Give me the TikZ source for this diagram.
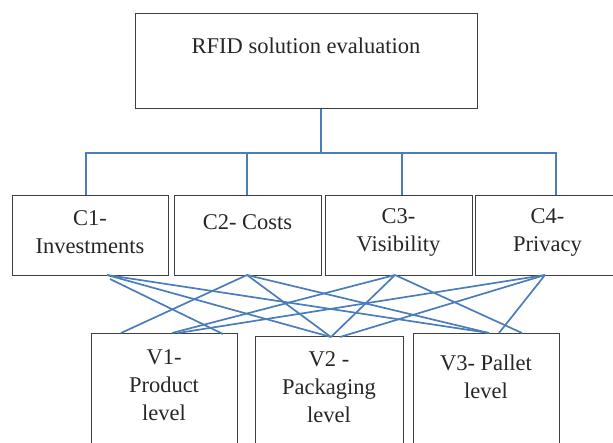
\documentclass[tikz,border=0pt]{standalone}
\usepackage{fontspec}
\setmainfont{Liberation Serif}
\begin{document}
\begin{tikzpicture}[x=1pt,y=-1pt,
  box/.style={draw=boxgray,line width=1.4pt,inner sep=0pt,anchor=north west},
  lbl/.style={align=center,inner sep=0pt,font=\fontsize{22.5}{28}\selectfont,text=black!85},
  link/.style={draw=linkblue,line width=1.7pt}]
\definecolor{boxgray}{HTML}{3F3F3F}
\definecolor{linkblue}{HTML}{4A7EBB}
\useasboundingbox (0,0) rectangle (613,442);
% boxes
\node[box,minimum width=342pt,minimum height=95pt] (top) at (135,13) {};
\node[box,minimum width=156pt,minimum height=80pt] (c1) at (12,195) {};
\node[box,minimum width=147pt,minimum height=80pt] (c2) at (174,195) {};
\node[box,minimum width=147pt,minimum height=80pt] (c3) at (325,195) {};
\node[box,minimum width=145pt,minimum height=80pt] (c4) at (475,195) {};
\node[box,minimum width=146pt,minimum height=120pt] (v1) at (91,333) {};
\node[box,minimum width=148pt,minimum height=120pt] (v2) at (255,336) {};
\node[box,minimum width=146pt,minimum height=120pt] (v3) at (413,333) {};
% texts
\node[lbl] (ttop) at (306,46) {RFID solution evaluation};
\node[lbl] (tc1) at (90,232.5) {C1-\\Investments};
\node[lbl] (tc2) at (247.5,222) {C2- Costs};
\node[lbl] (tc3) at (398.5,232.5) {C3-\\Visibility};
\node[lbl] (tc4) at (547.5,232.5) {C4-\\Privacy};
\node[lbl] (tv1) at (164,385) {V1-\\Product\\level};
\node[lbl] (tv2) at (329,387.5) {V2 -\\Packaging\\level};
\node[lbl] (tv3) at (486,376.5) {V3- Pallet\\level};
% tree bus
\coordinate (bus) at (321,153);
\draw[link] (top.south -| bus) -- (bus);
\draw[link] (c1.north -| 86,0) |- (bus) -| (c4.north -| 556,0);
\draw[link] (c2.north -| 247,0) -- (247,153);
\draw[link] (c3.north -| 402,0) -- (402,153);
% connection points
\coordinate (c1b) at (107,275);
\coordinate (c1bb) at (110,279);
\coordinate (c2b) at (247,275);
\coordinate (c3b) at (395,275);
\coordinate (c4b) at (545,275);
\coordinate (v1a) at (121,333);
\coordinate (v1b) at (172,333);
\coordinate (v1c) at (178,333);
\coordinate (v1d) at (223,334);
\coordinate (v2a) at (331,337);
\coordinate (v2b) at (340,337);
\coordinate (v3a) at (489,333);
\coordinate (v3b) at (499,333);
\coordinate (v3c) at (522,333);
% cross links
\draw[link] (c1bb) -- (v1d);
\draw[link] (c1b) -- (v2a);
\draw[link] (c1b) -- (v3a);
\draw[link] (c2b) -- (v1a);
\draw[link] (c2b) -- (v2a);
\draw[link] (c2b) -- (v3a);
\draw[link] (c3b) -- (v1b);
\draw[link] (c3b) -- (v2a);
\draw[link] (c3b) -- (v3c);
\draw[link] (c4b) -- (v1c);
\draw[link] (c4b) -- (v2b);
\draw[link] (c4b) -- (v3b);
\end{tikzpicture}
\end{document}
